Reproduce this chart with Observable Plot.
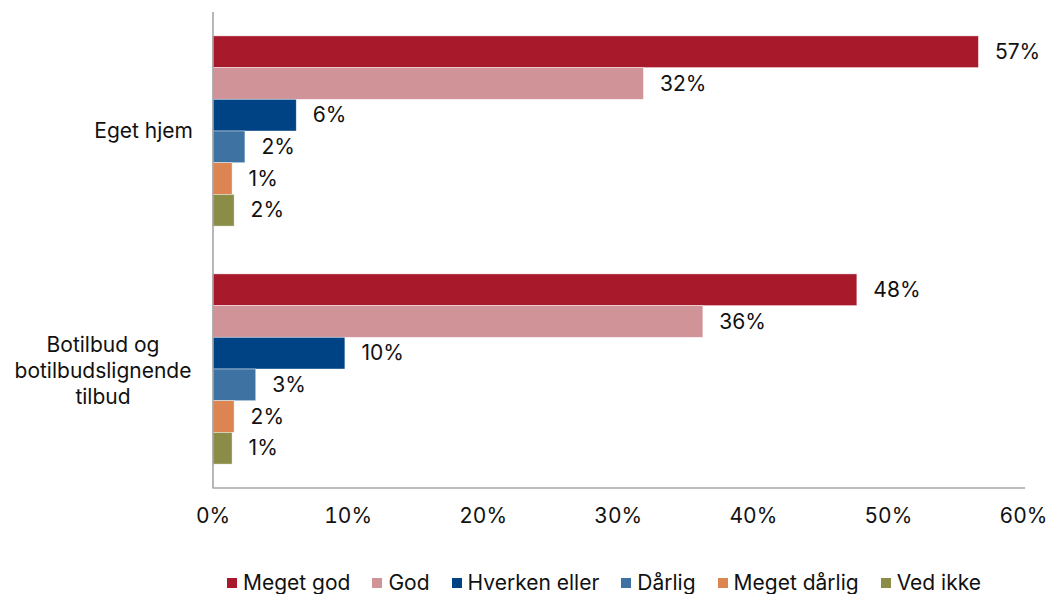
<!DOCTYPE html>
<html>
<head>
<meta charset="utf-8">
<script src="https://cdn.jsdelivr.net/npm/d3@7"></script>
<script src="https://cdn.jsdelivr.net/npm/@observablehq/plot@0.6"></script>
<style>
  body { margin: 0; background: #fff; font-family: Inter, "Noto Sans", sans-serif; }
  #legend { display: flex; align-items: center; margin-top: 32px; padding-left: 227px; font-size: 21px; line-height: 22px; color: #111; }
  #legend .item { display: flex; align-items: center; margin-right: 22px; }
  #legend .sw { width: 10px; height: 10px; margin-right: 6px; }
</style>
</head>
<body>
<div id="chart"></div>
<div id="legend"></div>
<script>
const groups = ["Eget hjem", "Botilbud og botilbudslignende tilbud"];
const groupLabels = ["Eget hjem", "Botilbud og\nbotilbudslignende\ntilbud"];
const categories = ["Meget god", "God", "Hverken eller", "Dårlig", "Meget dårlig", "Ved ikke"];
const colors = ["#a8192b", "#cf9398", "#004385", "#3e72a3", "#dd8552", "#8a8c48"];
const egetHjem = [56.7, 31.9, 6.2, 2.4, 1.45, 1.6];
const botilbud = [47.7, 36.3, 9.8, 3.2, 1.6, 1.45];
const xTicks = [0, 10, 20, 30, 40, 50, 60];

const seriesByGroup = [egetHjem, botilbud];
const data = [];
groups.forEach((g, gi) => categories.forEach((c, ci) => data.push({group: g, cat: c, value: seriesByGroup[gi][ci]})));
const groupRows = groups.map((g, i) => ({group: g, label: groupLabels[i]}));

const W = 1046, H = 540, MT = 12, MB = 52, ML = 212.5, MR = 23;
const FS = 21;

const plot = Plot.plot({
  width: W, height: H,
  marginTop: MT, marginBottom: MB, marginLeft: ML, marginRight: MR,
  style: {fontFamily: "Inter, 'Noto Sans', sans-serif", fontSize: FS + "px", color: "#111", background: "#fff"},
  fy: {domain: groups, axis: null, padding: 0, round: false},
  y: {domain: categories, axis: null, paddingInner: 0, paddingOuter: 0.754, round: false},
  x: {domain: [0, 60], ticks: xTicks, tickSize: 0, tickPadding: 20, tickFormat: d => d + "%", label: null},
  color: {domain: categories, range: colors},
  marks: [
    Plot.barX(data, {fy: "group", y: "cat", x: "value", fill: "cat", stroke: "white", strokeWidth: 0.7, strokeOpacity: 0.6}),
    Plot.text(data, {fy: "group", y: "cat", x: "value", text: d => Math.round(d.value) + "%", textAnchor: "start", dx: 16, fontSize: FS, fill: "#111"}),
    Plot.ruleX([0], {stroke: "#a6a6a6", strokeWidth: 1.6}),
    Plot.text(groupRows, {filter: d => d.group === groups[0], fy: "group", text: "label", frameAnchor: "left", textAnchor: "end", dx: -20, fontSize: FS, fill: "#111"}),
    Plot.text(groupRows, {filter: d => d.group === groups[1], fy: "group", text: "label", frameAnchor: "left", textAnchor: "middle", dx: -110, lineHeight: 1.26, fontSize: FS, fill: "#111"})
  ]
});

// bottom axis line, drawn from the plot's own x scale
const xs = plot.scale("x");
d3.select(plot).append("line")
  .attr("x1", xs.apply(0)).attr("x2", xs.apply(60) + 2)
  .attr("y1", H - MB).attr("y2", H - MB)
  .attr("stroke", "#a6a6a6").attr("stroke-width", 1.6);

document.getElementById("chart").appendChild(plot);

const legend = document.getElementById("legend");
categories.forEach((c, i) => {
  const item = document.createElement("div");
  item.className = "item";
  const sw = document.createElement("span");
  sw.className = "sw";
  sw.style.background = colors[i];
  const t = document.createElement("span");
  t.textContent = c;
  item.appendChild(sw); item.appendChild(t);
  legend.appendChild(item);
});
</script>
</body>
</html>
